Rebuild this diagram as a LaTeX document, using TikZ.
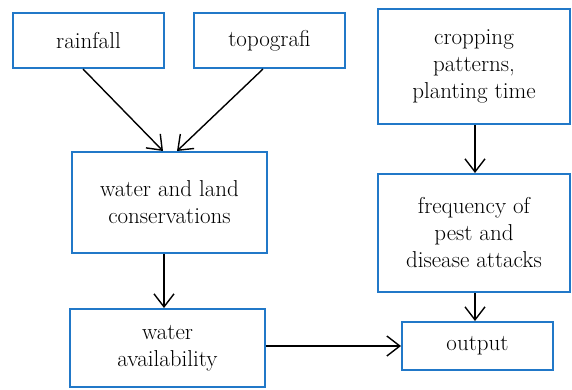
\documentclass[tikz,border=0pt]{standalone}
\usetikzlibrary{arrows.meta}
\definecolor{boxblue}{RGB}{33,120,200}
\begin{document}
\begin{tikzpicture}[x=1pt,y=-1pt,
  box/.style={draw=boxblue,line width=2pt,fill=white,align=center,inner sep=0pt,
    font=\fontsize{23}{27}\selectfont},
  conn/.style={line width=1.4pt,-{Straight Barb[length=13pt,width=20pt,line width=1.4pt]}}]
\useasboundingbox (0,0) rectangle (572,389);
\node[box,minimum width=151pt,minimum height=55pt] (rain) at (88.5,40.5) {rainfall};
\node[box,minimum width=151pt,minimum height=55pt] (topo) at (269.5,40.5) {topografi};
\node[box,minimum width=192pt,minimum height=115pt] (crop) at (474,66.5) {cropping\\patterns,\\planting time};
\node[box,minimum width=195pt,minimum height=101pt] (wl) at (169.5,202.5) {water and land\\conservations};
\node[box,minimum width=195pt,minimum height=78pt] (wa) at (167.5,348) {water\\availability};
\node[box,minimum width=192pt,minimum height=118pt] (freq) at (474,233) {frequency of\\pest and\\disease attacks};
\node[box,minimum width=151pt,minimum height=48pt] (out) at (477.5,346) {output};
\draw[conn] ([xshift=-5.5pt]rain.south) -- ([xshift=-6.5pt]wl.north);
\draw[conn] ([xshift=-6.5pt]topo.south) -- ([xshift=7.5pt]wl.north);
\draw[conn] ([xshift=-5.5pt]wl.south) -- ([xshift=-3.5pt]wa.north);
\draw[conn] ([xshift=1pt]crop.south) -- ([xshift=1pt]freq.north);
\draw[conn] ([xshift=1pt]freq.south) -- ([xshift=-2.5pt]out.north);
\draw[conn] (wa.east |- out.west) -- (out.west);
\end{tikzpicture}
\end{document}
